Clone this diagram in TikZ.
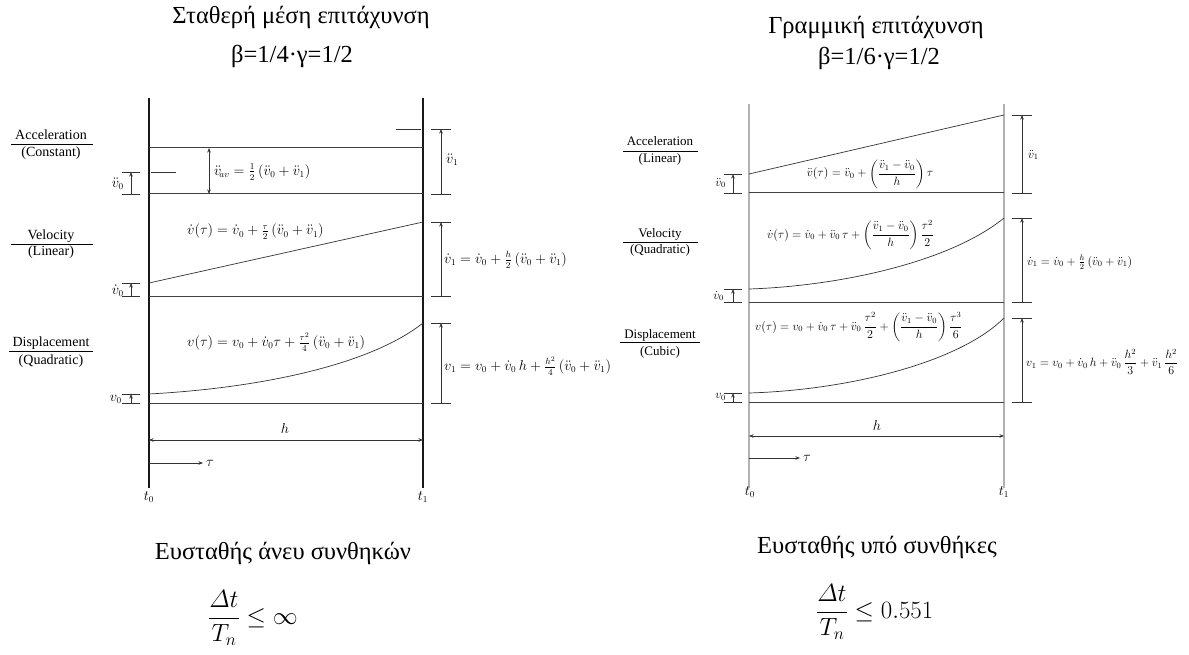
\documentclass[tikz,border=0pt]{standalone}
\usepackage{fontspec}
\usepackage{amsmath}
\setmainfont{Liberation Serif}
\usetikzlibrary{arrows.meta}
\tikzset{
  frame/.style={line width=1.3pt, black!90},
  grayframe/.style={line width=1.8pt, black!30},
  base/.style={line width=1pt, black!75},
  curve/.style={line width=0.7pt, black!80},
  arr/.style={-{Stealth[length=4.5pt,width=3.5pt]}, line width=0.6pt, black!80},
  darr/.style={{Stealth[length=4.5pt,width=3.5pt]}-{Stealth[length=4.5pt,width=3.5pt]}, line width=0.6pt, black!80},
  tick/.style={line width=0.8pt, black!80},
  lbl/.style={font=\fontsize{13.5}{16}\selectfont, inner sep=1pt},
  rlbl/.style={font=\fontsize{11.5}{14}\selectfont, inner sep=1pt},
  side/.style={font=\fontsize{14}{16}\selectfont, inner sep=0pt, anchor=base},
  rside/.style={font=\fontsize{13}{15}\selectfont, inner sep=0pt, anchor=base},
  title/.style={font=\fontsize{24.5}{28}\selectfont, inner sep=0pt},
  bigmath/.style={font=\fontsize{25}{30}\selectfont, inner sep=0pt},
}
\newcommand{\dimind}[4]{% x, ytop, ybot, halfwidth
  \draw[tick] (#1-#4,#2) -- (#1+#4,#2);
  \draw[tick] (#1-#4,#3) -- (#1+#4,#3);
  \draw[arr] (#1,#3) -- (#1,#2);
}
\begin{document}
\begin{tikzpicture}[x=1pt,y=-1pt]
\useasboundingbox[fill=white] (0,0) rectangle (1189,655);

% ================= LEFT DIAGRAM =================
\node[title] (tL1) at (301,17) {Σταθερή μέση επιτάχυνση};
\node[title] (tL2) at (292,56) {β=1/4·γ=1/2};

\coordinate (L0t) at (149,98);  \coordinate (L0b) at (149,488);
\coordinate (L1t) at (423,98);  \coordinate (L1b) at (423,488);
\draw[frame] (L0t) -- (L0b);
\draw[frame] (L1t) -- (L1b);

% acceleration
\draw[base] (149,148) -- (423,148);
\draw[base] (149,194) -- (423,194);
\draw[tick] (151,172) -- (176,172);
\draw[tick] (396,129) -- (421,129);
\draw[darr] (209,148) -- (209,194);
\node[lbl,anchor=west] (uav) at (213,172) {$\ddot{v}_{\!av} = \frac{1}{2}\,(\ddot{v}_0 + \ddot{v}_1)$};
\dimind{131}{172}{194}{9}
\node[lbl,anchor=east] (u0L) at (125,184) {$\ddot{v}_0$};
\dimind{441}{129}{194}{10}
\node[lbl,anchor=west] (u1L) at (445,160) {$\ddot{v}_1$};

% velocity
\draw[base] (149,296) -- (423,296);
\draw[curve] (149,283) -- (423,222);
\node[lbl,anchor=west] (vdL) at (186,232) {$\dot{v}(\tau) = \dot{v}_0 + \frac{\tau}{2}\,(\ddot{v}_0 + \ddot{v}_1)$};
\dimind{131}{283}{296}{9}
\node[lbl,anchor=east] (vd0L) at (125,291) {$\dot{v}_0$};
\dimind{441}{222}{296}{10}
\node[lbl,anchor=west] (vd1L) at (443,260) {$\dot{v}_1 = \dot{v}_0 + \frac{h}{2}\,(\ddot{v}_0 + \ddot{v}_1)$};

% displacement
\draw[base] (149,403) -- (423,403);
\draw[curve] (149,394) .. controls (260,388) and (370,365) .. (423,323);
\node[lbl,anchor=west] (vL) at (186,342) {$v(\tau) = v_0 + \dot{v}_0\tau + \frac{\tau^2}{4}\,(\ddot{v}_0 + \ddot{v}_1)$};
\dimind{131}{394}{403}{9}
\node[lbl,anchor=east] (v0L) at (123,399) {$v_0$};
\dimind{441}{323}{403}{10}
\node[lbl,anchor=west] (v1L) at (443,366) {$v_1 = v_0 + \dot{v}_0\,h + \frac{h^2}{4}\,(\ddot{v}_0 + \ddot{v}_1)$};

% h and tau
\draw[darr] (L0t |- 0,440) -- (L1t |- 0,440);
\node[lbl] (hL) at (285,428) {$h$};
\draw[arr] (149,463) -- (203,463);
\node[lbl,anchor=west] (tauL) at (205,463) {$\tau$};
\node[lbl] (t0L) at (149,497) {$t_0$};
\node[lbl] (t1L) at (423,497) {$t_1$};

% side labels
\node[side] (accL) at (51,140) {Acceleration};
\node[side] (accLc) at (51,157) {(Constant)};
\draw[line width=0.7pt] (11,144) -- (93,144);
\node[side] (velL) at (51,240) {Velocity};
\node[side] (velLc) at (51,256) {(Linear)};
\draw[line width=0.7pt] (11,244) -- (93,244);
\node[side] (disL) at (51,346) {Displacement};
\node[side] (disLc) at (51,364) {(Quadratic)};
\draw[line width=0.7pt] (9,351) -- (93,351);

\node[title] (bL) at (283,553) {Ευσταθής άνευ συνθηκών};
\node[bigmath,anchor=west] (fL) at (208,618) {$\dfrac{\varDelta t}{T_n} \le \infty$};

% ================= RIGHT DIAGRAM =================
\node[title] (tR1) at (876,27) {Γραμμική επιτάχυνση};
\node[title] (tR2) at (879,58) {β=1/6·γ=1/2};

\coordinate (R0t) at (749,104);  \coordinate (R0b) at (749,488);
\coordinate (R1t) at (1004,104); \coordinate (R1b) at (1004,488);
\draw[grayframe] (R0t) -- (R0b);
\draw[grayframe] (R1t) -- (R1b);

% acceleration
\draw[base] (749,193) -- (1004,193);
\draw[curve] (749,174) -- (1004,115);
\node[rlbl] (uR) at (870,174) {$\ddot{v}(\tau) = \ddot{v}_0 + \left(\dfrac{\ddot{v}_1 - \ddot{v}_0}{h}\right)\tau$};
\dimind{733}{174}{193}{9}
\node[rlbl,anchor=east] (u0R) at (727,183) {$\ddot{v}_0$};
\dimind{1022}{115}{193}{10}
\node[rlbl,anchor=west] (u1R) at (1027,155) {$\ddot{v}_1$};

% velocity
\draw[base] (749,302) -- (1004,302);
\draw[curve] (749,289) .. controls (840,286) and (950,262) .. (1004,218);
\node[rlbl,anchor=west] (vdR) at (766,235) {$\dot{v}(\tau) = \dot{v}_0 + \ddot{v}_0\,\tau + \left(\dfrac{\ddot{v}_1 - \ddot{v}_0}{h}\right)\dfrac{\tau^2}{2}$};
\dimind{733}{289}{302}{9}
\node[rlbl,anchor=east] (vd0R) at (725,296) {$\dot{v}_0$};
\dimind{1022}{218}{302}{10}
\node[rlbl,anchor=west] (vd1R) at (1026,262) {$\dot{v}_1 = \dot{v}_0 + \frac{h}{2}\,(\ddot{v}_0 + \ddot{v}_1)$};

% displacement
\draw[base] (749,402) -- (1004,402);
\draw[curve] (749,393) .. controls (850,390) and (960,362) .. (1004,318);
\node[rlbl,anchor=west] (vR) at (754,327) {$v(\tau) = v_0 + \dot{v}_0\,\tau + \ddot{v}_0\,\dfrac{\tau^2}{2} + \left(\dfrac{\ddot{v}_1 - \ddot{v}_0}{h}\right)\dfrac{\tau^3}{6}$};
\dimind{733}{393}{402}{9}
\node[rlbl,anchor=east] (v0R) at (727,397) {$v_0$};
\dimind{1022}{318}{402}{10}
\node[rlbl,anchor=west] (v1R) at (1025,362) {$v_1 = v_0 + \dot{v}_0\,h + \ddot{v}_0\,\dfrac{h^2}{3} + \ddot{v}_1\,\dfrac{h^2}{6}$};

% h and tau
\draw[darr] (R0t |- 0,436) -- (R1t |- 0,436);
\node[lbl] (hR) at (877,425) {$h$};
\draw[arr] (749,458) -- (800,458);
\node[lbl,anchor=west] (tauR) at (802,458) {$\tau$};
\node[lbl] (t0R) at (750,492) {$t_0$};
\node[lbl] (t1R) at (1004,492) {$t_1$};

% side labels
\node[rside] (accR) at (660,146) {Acceleration};
\node[rside] (accRc) at (660,163) {(Linear)};
\draw[line width=0.7pt] (623,151) -- (698,151);
\node[rside] (velR) at (660,238) {Velocity};
\node[rside] (velRc) at (660,254) {(Quadratic)};
\draw[line width=0.7pt] (623,242) -- (698,242);
\node[rside] (disR) at (660,338) {Displacement};
\node[rside] (disRc) at (660,355) {(Cubic)};
\draw[line width=0.7pt] (620,342) -- (700,342);

\node[title] (bR) at (877,547) {Ευσταθής υπό συνθήκες};
\node[bigmath,anchor=west] (fR) at (816,612) {$\dfrac{\varDelta t}{T_n} \le 0.551$};
\end{tikzpicture}
\end{document}
